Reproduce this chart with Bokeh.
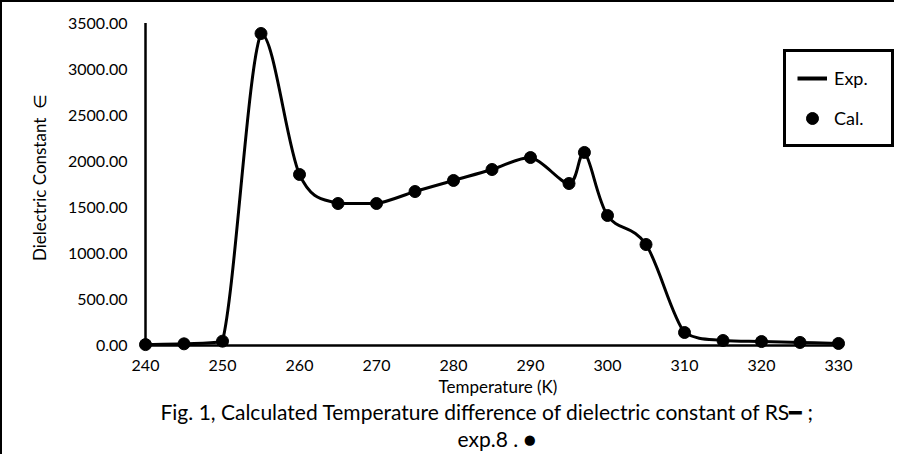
import numpy as np
from bokeh.plotting import figure
from bokeh.models import (Range1d, FixedTicker, NumeralTickFormatter, Title,
                          Legend, LegendItem)
from bokeh.embed import file_html
from bokeh.resources import INLINE

# ---- data ----
temps = [240, 245, 250, 255, 260, 265, 270, 275, 280, 285, 290, 295, 297,
         300, 305, 310, 315, 320, 325, 330]
eps = [10, 18, 47, 3386, 1856, 1541, 1541, 1671, 1791, 1910, 2040, 1758, 2095,
       1411, 1096, 141, 54, 43, 33, 22]
x_ticks = [240, 250, 260, 270, 280, 290, 300, 310, 320, 330]
y_ticks = [0, 500, 1000, 1500, 2000, 2500, 3000, 3500]

FONT = "Lato"

p = figure(width=894, height=454, output_backend="svg", toolbar_location=None,
           x_range=Range1d(239.09, 337.53), y_range=Range1d(-75.97, 3722.5),
           min_border_left=136, min_border_right=0, min_border_top=0,
           min_border_bottom=104,
           styles={"border-left": "2px solid black", "border-top": "2px solid black"})
p.outline_line_color = None
p.xgrid.visible = False
p.ygrid.visible = False

# axes (tick labels from Bokeh axes; axis lines drawn at the data origin below)
for ax in (p.xaxis[0], p.yaxis[0]):
    ax.axis_line_color = None
    ax.major_tick_line_color = None
    ax.minor_tick_line_color = None
    ax.major_tick_out = 0
    ax.major_tick_in = 0
    ax.minor_tick_out = 0
    ax.major_label_text_font = FONT
    ax.major_label_text_font_size = "16px"
    ax.major_label_text_color = "black"

p.xaxis.ticker = FixedTicker(ticks=x_ticks)
p.yaxis.ticker = FixedTicker(ticks=y_ticks)
p.yaxis.formatter = NumeralTickFormatter(format="0.00")
p.yaxis.major_label_standoff = 11
p.xaxis.major_label_standoff = 7

p.yaxis.axis_label = "Dielectric Constant \u00a0\u2208"
p.yaxis.axis_label_text_font = FONT
p.yaxis.axis_label_text_font_size = "17px"
p.yaxis.axis_label_text_font_style = "normal"
p.yaxis.axis_label_standoff = 15
p.yaxis.axis_label_text_color = "black"

# axis lines through the origin
p.segment(x0=[x_ticks[0], x_ticks[0]], y0=[y_ticks[0], y_ticks[0]],
          x1=[x_ticks[-1], x_ticks[0]], y1=[y_ticks[0], y_ticks[-1]],
          line_color="black", line_width=2.5)

# smooth curve: Bezier segments through the data points
# (Catmull-Rom tangents, control points kept inside each segment's value span)
tx = np.array(temps, dtype=float)
ty = np.array(eps, dtype=float)
n = len(tx)
prev_i = [max(i - 1, 0) for i in range(n)]
next_i = [min(i + 1, n - 1) for i in range(n)]
mx = (tx[next_i] - tx[prev_i]) / 6.0
my = (ty[next_i] - ty[prev_i]) / 6.0
lo = np.minimum(ty[:-1], ty[1:])
hi = np.maximum(ty[:-1], ty[1:])
p.bezier(x0=tx[:-1], y0=ty[:-1], x1=tx[1:], y1=ty[1:],
         cx0=tx[:-1] + mx[:-1], cy0=np.clip(ty[:-1] + my[:-1], lo, hi),
         cx1=tx[1:] - mx[1:], cy1=np.clip(ty[1:] - my[1:], lo, hi),
         line_color="black", line_width=3)

line_r = p.line(temps, eps, line_color="black", line_width=4, visible=False)
pts = p.scatter(temps, eps, size=12, fill_color="black", line_color="black")

legend = Legend(items=[LegendItem(label="Exp.", renderers=[line_r]),
                       LegendItem(label="Cal.", renderers=[pts])],
                location=(645, 205), orientation="vertical",
                border_line_color="black", border_line_width=3,
                border_line_alpha=1.0,
                background_fill_color="white", background_fill_alpha=1,
                padding=11, spacing=10, glyph_width=30, glyph_height=30,
                label_standoff=7, label_width=46, label_height=30,
                label_text_font=FONT, label_text_font_size="18px",
                label_text_color="black", margin=0)
p.add_layout(legend, "center")

# texts below the plot: x title and the figure caption
t1 = Title(text="Temperature (K)", align="left", offset=300, standoff=0,
           text_font=FONT, text_font_size="17px", text_font_style="normal",
           text_color="black")
t2 = Title(text="Fig. 1, Calculated Temperature difference of dielectric constant of RS\u2501 ;",
           align="left", offset=22, standoff=0,
           text_font=FONT, text_font_size="21px", text_font_style="normal",
           text_color="black")
t3 = Title(text="exp.8 . \u25CF", align="left", offset=319, standoff=0,
           text_font=FONT, text_font_size="21px", text_font_style="normal",
           text_color="black")
p.add_layout(t1, "below")
p.add_layout(t2, "below")
p.add_layout(t3, "below")

open("out.html", "w").write(file_html(p, INLINE))
